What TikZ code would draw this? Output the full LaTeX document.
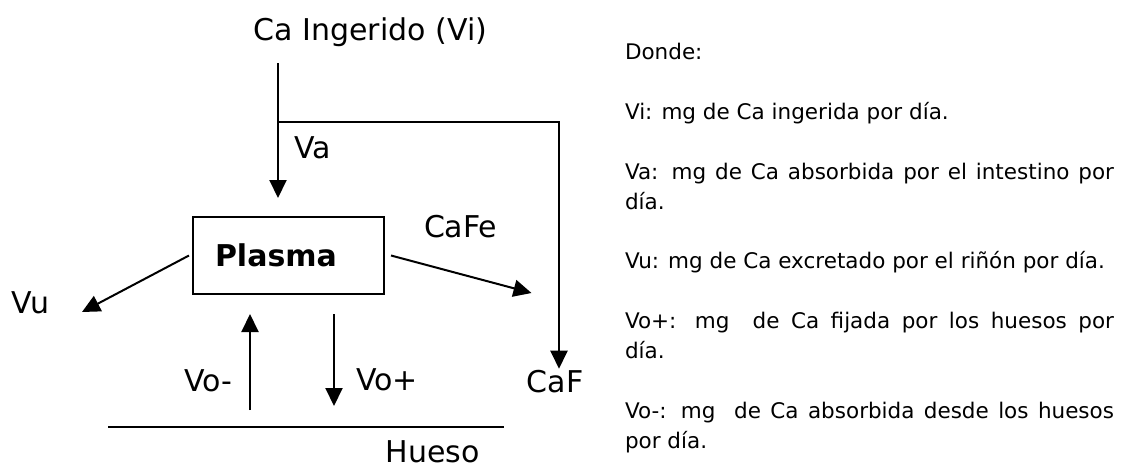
\documentclass[tikz,border=0pt]{standalone}
\usepackage{fontspec}
\setmainfont{DejaVu Sans}
\usetikzlibrary{positioning,arrows.meta,calc}

\begin{document}
\begin{tikzpicture}[x=1pt, y=-1pt, >={Triangle[length=18pt,width=17pt]},
  line width=2pt,
  lbl/.style={inner sep=0pt, font=\fontsize{30}{36}\selectfont},
  box/.style={draw, text width=147pt, inner xsep=22pt, minimum height=77pt,
    align=left, font=\fontsize{30}{36}\selectfont\bfseries}]
  \useasboundingbox (0,0) rectangle (1127,469);
  % intake and plasma
  \node[lbl, anchor=base] (vi) at (370.5,40) {Ca Ingerido (Vi)};
  \node[box] (pl) at (288.5,255.5) {Plasma};
  \coordinate (top) at (278,63);
  \coordinate (fork) at (278,122);
  \node[lbl, anchor=base west] (va) at (293,158) {Va};
  \node[lbl, anchor=base west] (cafe) at (423,237) {CaFe};
  \node[lbl, anchor=base] (caf) at (555,392) {CaF};
  \node[lbl, anchor=base] (vu) at (30.5,313) {Vu};
  \draw[->, shorten >=18pt] (top) -- (top |- pl.north);
  \draw[->] (fork) -| ([xshift=4pt]caf.north);
  % outflows
  \coordinate (fe) at (531.5,293);
  \coordinate (ue) at (82,312);
  \draw[->] ([xshift=6pt]pl.east) -- (fe);
  \draw[->] ([xshift=-3pt]pl.west) -- (ue);
  % bone exchange
  \node[lbl, anchor=base east] (vom) at (233,391) {Vo-};
  \node[lbl, anchor=base west] (vop) at (355,390) {Vo+};
  \draw[->] ($(pl.south)+(-38.5,115)$) -- ($(pl.south)+(-38.5,19)$);
  \draw[->] ($(pl.south)+(45.5,19)$) -- ($(pl.south)+(45.5,111)$);
  \coordinate (hl) at (108,427);
  \coordinate (hr) at (504,427);
  \draw (hl) -- (hr);
  \node[lbl, anchor=base] (hu) at (432.5,462) {Hueso};
  % legend
  \node[anchor=north west, inner sep=0pt, text width=489pt, align=justify,
    font=\fontsize{21.5}{29.85}\selectfont] (leg) at (624,38.1)
    {\parindent=0pt\parskip=29.85pt
     \strut Donde:\par
     Vi: mg de Ca ingerida por día.\par
     Va: mg de Ca absorbida por el intestino por\linebreak día.\par
     Vu: mg de Ca excretado por el riñón por día.\par
     Vo+: mg\ \ de Ca fijada por los huesos por\linebreak día.\par
     Vo-: mg\ \ de Ca absorbida desde los huesos\linebreak por día.};
\end{tikzpicture}
\end{document}
